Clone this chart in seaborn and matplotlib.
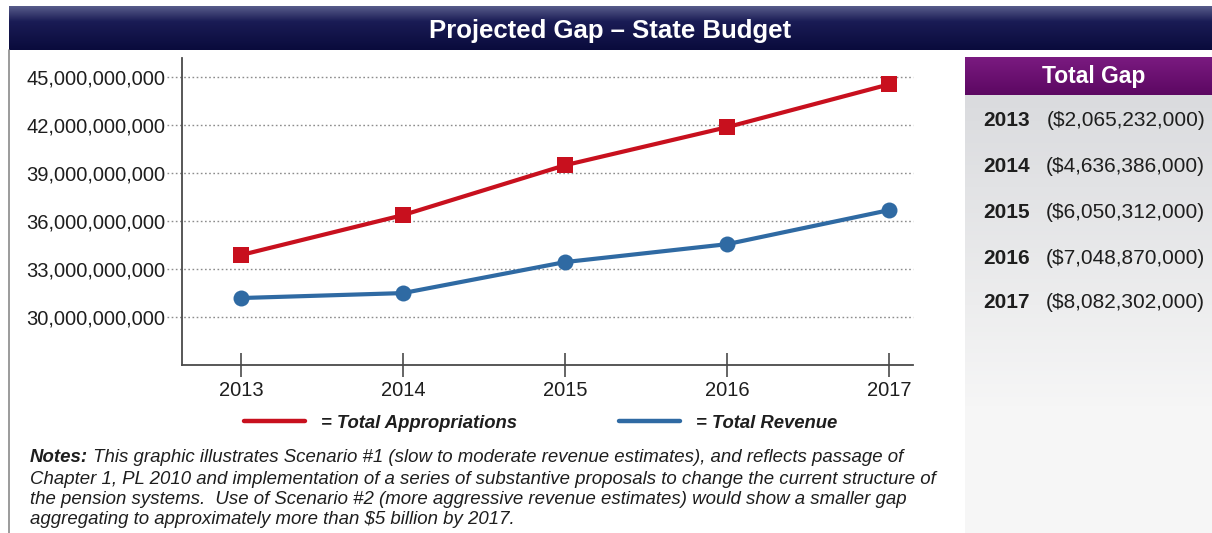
import numpy as np
import pandas as pd
import matplotlib
matplotlib.use("Agg")
import matplotlib.pyplot as plt
import matplotlib.transforms as mtransforms
from matplotlib.lines import Line2D
from matplotlib.ticker import FuncFormatter
import seaborn as sns

# ---- data ----
years = [2013, 2014, 2015, 2016, 2017]
appropriations = [33.86e9, 36.36e9, 39.48e9, 41.86e9, 44.54e9]
revenue = [31.17e9, 31.48e9, 33.42e9, 34.54e9, 36.67e9]
series_names = ["Total Appropriations", "Total Revenue"]
gap_labels = ["($2,065,232,000)", "($4,636,386,000)", "($6,050,312,000)",
              "($7,048,870,000)", "($8,082,302,000)"]
y_ticks = [30e9, 33e9, 36e9, 39e9, 42e9, 45e9]
title = "Projected Gap \u2013 State Budget"
panel_title = "Total Gap"
notes_head = "Notes:"
notes_body = [
    " This graphic illustrates Scenario #1 (slow to moderate revenue estimates), and reflects passage of",
    "Chapter 1, PL 2010 and implementation of a series of substantive proposals to change the current structure of",
    "the pension systems.  Use of Scenario #2 (more aggressive revenue estimates) would show a smaller gap",
    "aggregating to approximately more than $5 billion by 2017.",
]

df = pd.DataFrame({
    "year": years * 2,
    "value": appropriations + revenue,
    "series": [series_names[0]] * len(years) + [series_names[1]] * len(years),
})

RED = "#c8101e"
BLUE = "#2f6aa3"
TEXT = "#1e1e1e"

FAM = ["Liberation Sans", "DejaVu Sans"]

sns.set_theme(style="white")
plt.rcParams["font.family"] = FAM

fig = plt.figure(figsize=(12.12, 5.33), dpi=100)
fig.patch.set_facecolor("white")

W, H = 1212.0, 533.0


def fx(px):
    return px / W


def fy(py):
    return 1 - py / H


# ---- title banner ----
ban = fig.add_axes([fx(9), fy(50), 1 - fx(9), (50 - 6) / H])
grad = np.linspace(0, 1, 100)[:, None]
top = np.array([0x58, 0x5c, 0x8a]) / 255
mid = np.array([0x1a, 0x1c, 0x55]) / 255
bot = np.array([0x0a, 0x0b, 0x3c]) / 255
cols = np.where(grad < 0.35, top + (mid - top) * (grad / 0.35),
                mid + (bot - mid) * ((grad - 0.35) / 0.65))
ban.imshow(cols[:, None, :].repeat(2, axis=1), aspect="auto", extent=[0, 1, 0, 1])
ban.set_axis_off()
ban.text(0.5, 0.43, title, color="white", fontsize=18.5, fontweight="bold",
         ha="center", va="center", transform=ban.transAxes)

# ---- right panel ----
pan = fig.add_axes([fx(965), 0, 1 - fx(965), (533 - 95) / H])
pg = np.linspace(0, 1, 100)[:, None]
ptop = np.array([0xda, 0xdb, 0xde]) / 255
pbot = np.array([0xf6, 0xf6, 0xf6]) / 255
pcols = ptop + (pbot - ptop) * np.clip(pg * 1.4, 0, 1)
pan.imshow(pcols[:, None, :].repeat(2, axis=1), aspect="auto", extent=[0, 1, 0, 1])
pan.set_axis_off()

hdr = fig.add_axes([fx(965), fy(95), 1 - fx(965), (95 - 57) / H])
hg = np.linspace(0, 1, 50)[:, None]
htop = np.array([0x7a, 0x1a, 0x80]) / 255
hbot = np.array([0x5c, 0x08, 0x62]) / 255
hcols = htop + (hbot - htop) * hg
hdr.imshow(hcols[:, None, :].repeat(2, axis=1), aspect="auto", extent=[0, 1, 0, 1])
hdr.set_axis_off()
hdr.text(0.52, 0.5, panel_title, color="white", fontsize=16.5, fontweight="bold",
         ha="center", va="center", transform=hdr.transAxes)

row_y = [121, 166, 212, 258, 303]
for yr, lab, ry in zip(years, gap_labels, row_y):
    fig.text(fx(983), fy(ry), str(yr), fontsize=15, fontweight="bold", color=TEXT,
             ha="left", va="center")
    fig.text(fx(1205), fy(ry), lab, fontsize=15, color=TEXT, ha="right", va="center")

# left border of the content frame
fig.add_artist(Line2D([fx(9), fx(9)], [0, fy(50)], color="#8a8a8a", lw=1.2))

# ---- main chart ----
ax = fig.add_axes([fx(182), fy(365), fx(913) - fx(182), (365 - 58) / H])
ax.set_facecolor("none")
sns.lineplot(data=df, x="year", y="value", hue="series", style="series",
             palette={series_names[0]: RED, series_names[1]: BLUE},
             markers={series_names[0]: "s", series_names[1]: "o"},
             dashes=False, linewidth=3.0, markersize=11.5, markeredgewidth=0,
             legend=False, ax=ax)

ax.set_xlim(2012.636, 2017.148)
ax.set_ylim(26.98e9, 46.19e9)
ax.set_xticks(years)
ax.set_yticks(y_ticks)
ax.yaxis.set_major_formatter(FuncFormatter(lambda v, p: f"{v:,.0f}"))
ax.set_xlabel("")
ax.set_ylabel("")
ax.grid(False)

for side in ["top", "right"]:
    ax.spines[side].set_visible(False)
for side in ["left", "bottom"]:
    ax.spines[side].set_color("#4a4a4a")
    ax.spines[side].set_linewidth(1.3)

ax.tick_params(axis="y", left=False, length=0, pad=12, labelsize=14.5, labelcolor=TEXT)
ax.tick_params(axis="x", bottom=True, direction="inout", length=17, width=1.2,
               color="#4a4a4a", pad=3, labelsize=14.5, labelcolor=TEXT)

# dotted guide lines, running slightly past the axis to the tick labels
blend = mtransforms.blended_transform_factory(ax.transAxes, ax.transData)
ax.hlines(y_ticks, -15 / 731, 1, transform=blend, colors="#8c8c8c", linewidth=1.0,
          linestyles=(0, (1.2, 1.8)), clip_on=False, zorder=0)

# legend
handles = [Line2D([], [], color=RED, lw=3.2), Line2D([], [], color=BLUE, lw=3.2)]
leg = ax.legend(handles, ["= " + s for s in series_names], ncol=2, frameon=False,
                loc="center", bbox_to_anchor=(0.446, fy(423), 0, 0),
                bbox_transform=fig.transFigure,
                prop={"family": FAM, "weight": "bold", "style": "italic", "size": 13.3},
                handlelength=3.3, handletextpad=0.9, columnspacing=5.5)
for t in leg.get_texts():
    t.set_color(TEXT)

# notes
note_fs = 13.4
line_y = [458, 479, 500, 520]
head = fig.text(fx(30), fy(line_y[0]), notes_head, fontsize=note_fs, fontweight="bold",
                style="italic", color=TEXT, ha="left", va="center")
fig.canvas.draw()
bb = head.get_window_extent()
fig.text(bb.x1 / W, fy(line_y[0]), notes_body[0], fontsize=note_fs, style="italic",
         color=TEXT, ha="left", va="center")
for txt, ly in zip(notes_body[1:], line_y[1:]):
    fig.text(fx(30), fy(ly), txt, fontsize=note_fs, style="italic",
             color=TEXT, ha="left", va="center")

fig.savefig("out.png", dpi=100, facecolor="white")
